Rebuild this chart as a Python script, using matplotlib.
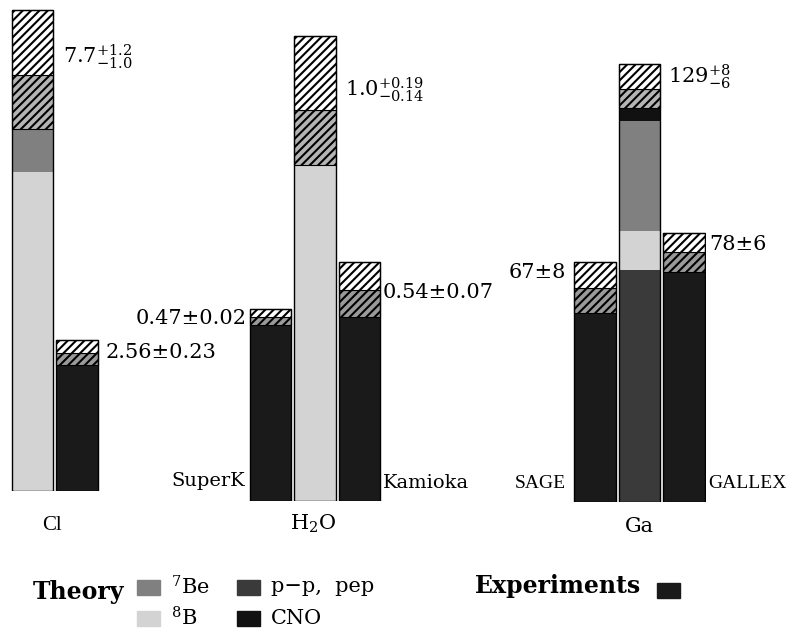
import matplotlib.pyplot as plt
from matplotlib.patches import Rectangle

plt.rcParams['font.family'] = 'DejaVu Serif'
plt.rcParams['mathtext.fontset'] = 'dejavuserif'
plt.rcParams['hatch.linewidth'] = 1.5

# --- data ---
# Cl (SNU): theory components bottom->top
cl_parts = [5.9, 1.15, 0.22, 0.43]
cl_kinds = ['8B', '7Be', 'pp', 'CNO']
cl_theory = 7.7
cl_theory_err = (1.2, 1.0)
cl_theory_label = r'$7.7^{+1.2}_{-1.0}$'
cl_exp = [2.56]
cl_exp_err = [0.23]

# H2O (fraction of SSM)
h2o_parts = [1.0]
h2o_kinds = ['8B']
h2o_theory = 1.0
h2o_theory_err = (0.19, 0.14)
h2o_theory_label = r'$1.0^{+0.19}_{-0.14}$'
h2o_exp_names = ['SuperK', 'Kamioka']
h2o_exp = [0.47, 0.54]
h2o_exp_err = [0.02, 0.07]

# Ga (SNU)
ga_parts = [72.4, 12.4, 34.4, 9.8]
ga_kinds = ['pp', '8B', '7Be', 'CNO']
ga_theory = 129
ga_theory_err = (8, 6)
ga_theory_label = r'$129^{+8}_{-6}$'
ga_exp_names = ['SAGE', 'GALLEX']
ga_exp = [67, 78]
ga_exp_err = [8, 6]

colors = {'8B': '#d3d3d3', '7Be': '#808080', 'pp': '#3a3a3a', 'CNO': '#111111', 'exp': '#1a1a1a'}
band_grey = {'theory': '#b4b4b4', 'exp': '#9a9a9a'}

W, H = 791, 633
fig = plt.figure(figsize=(W / 100, H / 100), dpi=100)

unit = 44.5
bw = 0.93


def px_axes(left, baseline, scale):
    ax = fig.add_axes([left / W, (H - baseline) / H, 3 * unit / W, baseline / H])
    ax.set_xlim(-0.5, 2.5)
    ax.set_ylim(0, baseline / scale)
    ax.axis('off')
    return ax


def draw_bar(ax, x, parts, kinds, central, up, down):
    bottom = 0
    for v, k in zip(parts, kinds):
        ax.bar(x, v, bottom=bottom, width=bw, color=colors[k], linewidth=0)
        bottom += v
    band = band_grey['exp'] if kinds == ['exp'] else band_grey['theory']
    ax.bar(x, down, bottom=central - down, width=bw, facecolor=band,
           edgecolor='black', hatch='////', linewidth=0.8)
    ax.bar(x, up, bottom=central, width=bw, facecolor='white',
           edgecolor='black', hatch='////', linewidth=0.8)
    ax.bar(x, central + up, width=bw, fill=False, edgecolor='black', linewidth=1.0)


# Cl
ax1 = px_axes(10.25, 491, 54)
draw_bar(ax1, 0, cl_parts, cl_kinds, cl_theory, *cl_theory_err)
draw_bar(ax1, 1, cl_exp, ['exp'], cl_exp[0], cl_exp_err[0], cl_exp_err[0])

# H2O
ax2 = px_axes(248.25, 501, 391)
draw_bar(ax2, 0, [h2o_exp[0]], ['exp'], h2o_exp[0], h2o_exp_err[0], h2o_exp_err[0])
draw_bar(ax2, 1, h2o_parts, h2o_kinds, h2o_theory, *h2o_theory_err)
draw_bar(ax2, 2, [h2o_exp[1]], ['exp'], h2o_exp[1], h2o_exp_err[1], h2o_exp_err[1])

# Ga
ax3 = px_axes(572.75, 502, 3.2)
draw_bar(ax3, 0, [ga_exp[0]], ['exp'], ga_exp[0], ga_exp_err[0], ga_exp_err[0])
draw_bar(ax3, 1, ga_parts, ga_kinds, ga_theory, *ga_theory_err)
draw_bar(ax3, 2, [ga_exp[1]], ['exp'], ga_exp[1], ga_exp_err[1], ga_exp_err[1])

# overlay for labels, in pixel coordinates
ov = fig.add_axes([0, 0, 1, 1])
ov.set_xlim(0, W)
ov.set_ylim(H, 0)
ov.axis('off')

fs = 15
ov.text(63, 57, cl_theory_label, fontsize=fs, va='center')
ov.text(106, 353, f'{cl_exp[0]}±{cl_exp_err[0]}', fontsize=fs, va='center')
ov.text(247, 318, f'{h2o_exp[0]}±{h2o_exp_err[0]}', fontsize=fs, va='center', ha='right')
ov.text(345, 90, h2o_theory_label, fontsize=fs, va='center')
ov.text(383, 292, f'{h2o_exp[1]}±{h2o_exp_err[1]}', fontsize=fs, va='center')
ov.text(566, 273, f'{ga_exp[0]}±{ga_exp_err[0]}', fontsize=fs, va='center', ha='right')
ov.text(668, 77, ga_theory_label, fontsize=fs, va='center')
ov.text(709, 245, f'{ga_exp[1]}±{ga_exp_err[1]}', fontsize=fs, va='center')

ov.text(245, 481, h2o_exp_names[0], fontsize=14, va='center', ha='right')
ov.text(383, 483, h2o_exp_names[1], fontsize=14, va='center')
ov.text(566, 484, ga_exp_names[0], fontsize=14, va='center', ha='right',
        family='Liberation Serif')
ov.text(708, 484, ga_exp_names[1], fontsize=14, va='center', family='Liberation Serif')

ov.text(52, 526, 'Cl', fontsize=15, ha='center', va='center', family='Liberation Serif')
ov.text(313, 524, r'H$_2$O', fontsize=15, ha='center', va='center')
ov.text(639, 526, 'Ga', fontsize=15, ha='center', va='center')

# legend
ov.text(33, 592, 'Theory', fontsize=17, fontweight='bold', va='center')
leg_boxes = [(137, 580, '7Be', r'$^7$Be'), (237, 580, 'pp', 'p−p,  pep'),
             (137, 611, '8B', r'$^8$B'), (237, 611, 'CNO', 'CNO')]
for x0, y0, k, lab in leg_boxes:
    ov.add_patch(Rectangle((x0, y0), 23, 15, color=colors[k]))
    ov.text(x0 + 34, y0 + 7, lab, fontsize=15, va='center')
ov.text(475, 586, 'Experiments', fontsize=17, fontweight='bold', va='center')
ov.add_patch(Rectangle((657, 583), 23, 15, color=colors['exp']))

fig.savefig('out.png', dpi=100)
